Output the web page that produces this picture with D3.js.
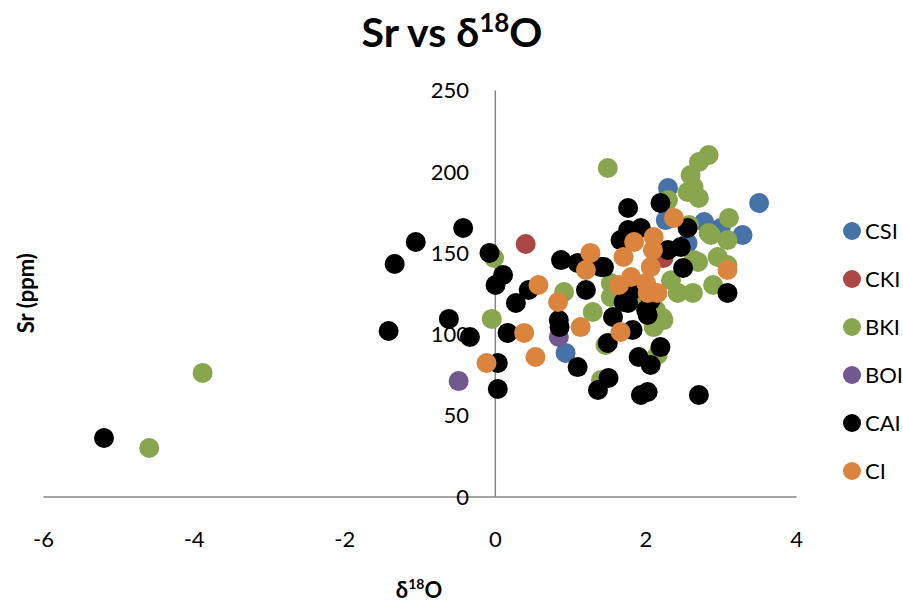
<!DOCTYPE html>
<html>
<head>
<meta charset="utf-8">
<script src="https://cdn.jsdelivr.net/npm/d3@7/dist/d3.min.js"></script>
<style>
  body { margin: 0; background: #fff; }
  svg { font-family: Lato, "Open Sans", sans-serif; }
</style>
</head>
<body>
<svg id="chart" width="903" height="604"></svg>
<script>
// ---- Data (δ18O, Sr ppm) ----
const seriesNames = ["CSI", "CKI", "BKI", "BOI", "CAI", "CI"];
const seriesColors = ["#4572A7", "#AA4643", "#89A54E", "#71588F", "#000000", "#DB843D"];

const CSI = [[3.51,180.5],[2.30,189.7],[2.78,168.8],[3.29,160.8],[3.00,165.1],[2.27,170.0],[2.56,155.9],[0.94,88.3]];
const CKI = [[0.41,155.3],[2.24,146.7]];
const BKI = [[-4.59,29.8],[-3.88,76.0],[1.50,202.0],[-0.01,146.7],[-0.04,109.2],[0.92,125.8],[1.30,113.5],
  [1.47,93.2],[1.41,71.6],[2.84,210.0],[2.71,205.7],[2.60,197.7],[2.64,190.3],[2.56,187.3],[2.71,183.6],
  [3.11,171.3],[2.84,162.1],[3.09,157.7],[2.58,167.0],[2.87,160.8],[2.70,144.2],[2.96,147.3],[3.09,142.4],
  [2.90,130.1],[2.63,125.2],[2.43,125.2],[2.24,108.5],[2.11,104.2],[2.16,87.0],[1.54,122.7],[1.54,131.3],
  [2.30,182.3],[2.23,109.8],[2.00,121.0],[2.34,133.0],[2.14,114.7],[2.64,145.4]];
const BOI = [[-0.48,71.0],[0.85,98.1]];
const CAI = [[-5.19,36.0],[-1.41,101.8],[-1.33,143.0],[-1.05,156.5],[-0.42,165.1],[-0.61,109.2],[-0.33,98.1],
  [-0.07,149.8],[0.11,136.2],[0.01,130.1],[0.04,82.1],[0.04,66.1],[0.28,119.0],[0.17,100.6],[0.45,127.0],
  [0.88,145.4],[1.10,143.6],[1.41,141.1],[1.21,127.0],[0.85,108.5],[0.86,104.2],[1.10,79.6],[1.37,65.5],
  [1.50,94.4],[2.50,140.5],[3.09,125.2],[1.77,119.0],[2.01,114.7],[1.57,110.4],[1.83,102.4],[2.20,91.9],
  [1.91,85.8],[2.07,80.9],[1.51,72.9],[1.94,62.4],[2.03,64.3],[2.71,62.4],[1.77,177.4],[2.20,180.5],
  [1.77,163.9],[1.94,165.1],[2.56,165.1],[2.47,153.4],[1.45,141.1],[1.67,157.7],[2.30,151.6],[1.71,119.6],
  [2.03,111.6],[1.94,130.1],[2.07,120.8],[1.83,127.0]];
const CI = [[-0.11,82.1],[0.39,100.6],[0.54,85.8],[0.58,130.1],[0.84,119.6],[1.14,104.2],[1.27,149.8],
  [1.21,139.3],[3.09,139.3],[1.67,101.2],[1.65,130.1],[1.81,135.0],[2.01,131.3],[2.07,141.1],[2.03,125.2],
  [2.16,125.2],[2.38,171.3],[1.85,156.5],[2.11,159.6],[2.10,151.6],[1.71,147.3]];

const seriesData = [CSI, CKI, BKI, BOI, CAI, CI];
const xTicks = [-6, -4, -2, 0, 2, 4];
const yTicks = [0, 50, 100, 150, 200, 250];

// ---- Layout ----
const svg = d3.select("#chart");
const x = d3.scaleLinear().domain([-6, 4]).range([43, 796]);
const y = d3.scaleLinear().domain([0, 250]).range([496.5, 90]);
const axisColor = "#868686";

// Title
const title = svg.append("text")
  .attr("x", 452).attr("y", 47)
  .attr("text-anchor", "middle")
  .attr("font-size", 41).attr("font-weight", "bold")
  .attr("fill", "#000");
title.append("tspan").text("Sr vs δ");
title.append("tspan").attr("font-size", 26).attr("dy", -15).text("18");
title.append("tspan").attr("dy", 15).text("O");

// Axes: x axis at y=0, y axis at x=0
const xAxis = d3.axisBottom(x).tickValues(xTicks).tickSize(0).tickFormat(d3.format("d"));
const gx = svg.append("g").attr("transform", `translate(0,${y(0)})`).call(xAxis);
gx.select(".domain").attr("stroke", axisColor).attr("stroke-width", 1.5);
gx.selectAll(".tick text").attr("y", 0).attr("dy", 0)
  .attr("transform", `translate(0,${547 - y(0)})`)
  .attr("font-size", 22).attr("fill", "#000").attr("font-family", "Lato, sans-serif")
  .text(d => d < 0 ? "-" + Math.abs(d) : d);

const yAxis = d3.axisLeft(y).tickValues(yTicks).tickSize(0);
const gy = svg.append("g").attr("transform", `translate(${x(0)},0)`).call(yAxis);
gy.select(".domain").attr("stroke", axisColor).attr("stroke-width", 1.5);
gy.selectAll(".tick text").attr("x", 469 - x(0)).attr("dy", "0.35em")
  .attr("font-size", 22).attr("fill", "#000").attr("font-family", "Lato, sans-serif");

// Axis titles
const xt = svg.append("text").attr("x", 419).attr("y", 598)
  .attr("text-anchor", "middle").attr("font-size", 22).attr("font-weight", "bold");
xt.append("tspan").text("δ");
xt.append("tspan").attr("font-size", 14).attr("dy", -9).text("18");
xt.append("tspan").attr("dy", 9).text("O");

svg.append("text")
  .attr("transform", `translate(34,${(90 + 496.5) / 2}) rotate(-90)`)
  .attr("text-anchor", "middle").attr("font-size", 22).attr("font-weight", "bold")
  .text("Sr (ppm)");

// Points
seriesData.forEach((data, i) => {
  svg.append("g").selectAll("circle").data(data).enter().append("circle")
    .attr("cx", d => x(d[0])).attr("cy", d => y(d[1]))
    .attr("r", 10).attr("fill", seriesColors[i]);
});

// Legend
const legend = svg.append("g");
seriesNames.forEach((name, i) => {
  const ly = 231 + i * 48;
  legend.append("circle").attr("cx", 852).attr("cy", ly).attr("r", 9).attr("fill", seriesColors[i]);
  legend.append("text").attr("x", 865).attr("y", ly).attr("dy", "0.35em")
    .attr("font-size", 22).attr("fill", "#000").text(name);
});
</script>
</body>
</html>
